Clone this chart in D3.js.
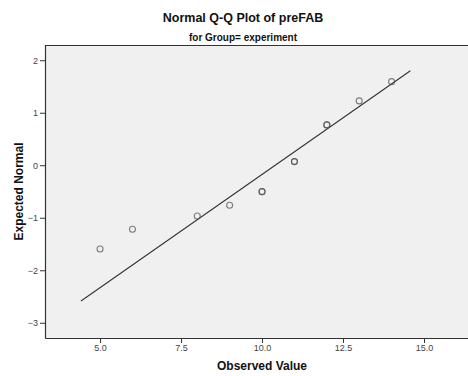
<!DOCTYPE html>
<html>
<head>
<meta charset="utf-8">
<script src="https://cdn.jsdelivr.net/npm/d3@7/dist/d3.min.js"></script>
<style>
  html, body { margin: 0; padding: 0; background: #fff; }
  svg { display: block; }
  text { font-family: "Liberation Sans", Arial, sans-serif; }
</style>
</head>
<body>
<script>
// Observed values, expected normal scores and how many cases share each value
const observed = [5, 6, 8, 9, 10, 11, 12, 13, 14];
const expected = [-1.594, -1.219, -0.966, -0.762, -0.503, 0.069, 0.768, 1.225, 1.592];
const caseCount = [1, 1, 1, 1, 2, 2, 2, 1, 1];

// Reference line endpoints
const lineX = [4.41, 14.58];
const lineY = [-2.585, 1.80];

const xTicks = [5, 7.5, 10, 12.5, 15];
const yTicks = [2, 1, 0, -1, -2, -3];

const W = 468, H = 376;
const plot = { left: 45, top: 45, right: 470, bottom: 338 };

const svg = d3.select("body").append("svg").attr("width", W).attr("height", H);

const x = d3.scaleLinear().domain([3.3, 16.42]).range([plot.left, plot.right]);
const y = d3.scaleLinear().domain([-3.29, 2.29]).range([plot.bottom, plot.top]);

// plot background
svg.append("rect")
  .attr("x", plot.left).attr("y", plot.top)
  .attr("width", plot.right - plot.left).attr("height", plot.bottom - plot.top)
  .attr("fill", "#f0f0f0");

// frame: top edge
svg.append("line")
  .attr("x1", plot.left).attr("x2", plot.right)
  .attr("y1", plot.top + 0.5).attr("y2", plot.top + 0.5)
  .attr("stroke", "#333").attr("stroke-width", 1);

// axes
const xAxis = svg.append("g")
  .attr("transform", `translate(0,${plot.bottom})`)
  .call(d3.axisBottom(x).tickValues(xTicks).tickFormat(d3.format(".1f"))
    .tickSizeInner(5).tickSizeOuter(0).tickPadding(2));
const yAxis = svg.append("g")
  .attr("transform", `translate(${plot.left},0)`)
  .call(d3.axisLeft(y).tickValues(yTicks).tickFormat(d3.format("d"))
    .tickSizeInner(5).tickSizeOuter(0).tickPadding(2));

[xAxis, yAxis].forEach(g => {
  g.select(".domain").attr("stroke", "#333").attr("stroke-width", 1.2);
  g.selectAll(".tick line").attr("stroke", "#333");
  g.selectAll(".tick text")
    .attr("fill", "#444")
    .style("font-family", "'Liberation Sans', Arial, sans-serif")
    .style("font-size", "9px");
});

// reference line
svg.append("line")
  .attr("x1", x(lineX[0])).attr("y1", y(lineY[0]))
  .attr("x2", x(lineX[1])).attr("y2", y(lineY[1]))
  .attr("stroke", "#333").attr("stroke-width", 1.1);

// markers: cases sharing a value are drawn on top of each other
const markers = [];
observed.forEach((v, i) => {
  for (let k = 0; k < caseCount[i]; k++) markers.push({ v, e: expected[i] });
});
svg.append("g").selectAll("circle")
  .data(markers)
  .join("circle")
  .attr("cx", d => x(d.v))
  .attr("cy", d => y(d.e))
  .attr("r", 3)
  .attr("fill", "none")
  .attr("stroke", "#555")
  .attr("stroke-opacity", 0.75)
  .attr("stroke-width", 1.1);

// titles
svg.append("text")
  .attr("x", 243).attr("y", 22)
  .attr("text-anchor", "middle")
  .style("font-size", "12.5px").style("font-weight", "bold").attr("fill", "#111")
  .text("Normal Q-Q Plot of preFAB");
svg.append("text")
  .attr("x", 243).attr("y", 41)
  .attr("text-anchor", "middle")
  .style("font-size", "10px").style("font-weight", "bold").attr("fill", "#111")
  .text("for Group= experiment");

svg.append("text")
  .attr("x", 262).attr("y", 370)
  .attr("text-anchor", "middle")
  .style("font-size", "12px").style("font-weight", "bold").attr("fill", "#111")
  .text("Observed Value");
svg.append("text")
  .attr("transform", `translate(23,${(plot.top + plot.bottom) / 2}) rotate(-90)`)
  .attr("text-anchor", "middle")
  .style("font-size", "12px").style("font-weight", "bold").attr("fill", "#111")
  .text("Expected Normal");
</script>
</body>
</html>
